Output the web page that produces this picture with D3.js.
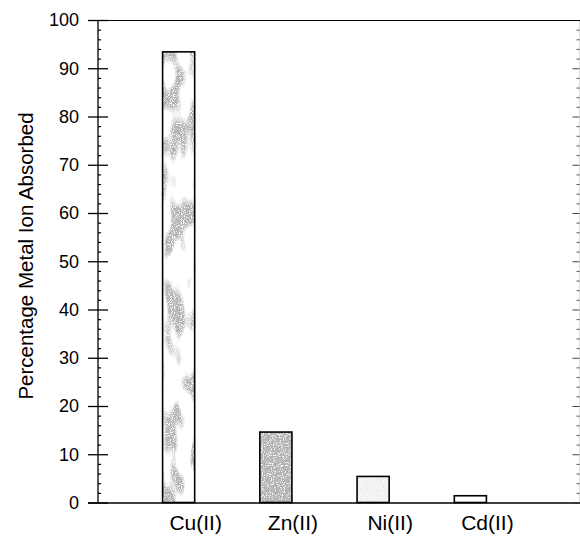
<!DOCTYPE html>
<html>
<head>
<meta charset="utf-8">
<script src="https://cdn.jsdelivr.net/npm/d3@7"></script>
<style>
  body { margin: 0; background: #fff; }
  svg { display: block; font-family: "Liberation Sans", Arial, sans-serif; }
  .axis text { fill: #000; }
</style>
</head>
<body>
<svg id="chart" width="580" height="539"></svg>
<script>
// Data
const metals = ["Cu(II)", "Zn(II)", "Ni(II)", "Cd(II)"];
const absorbed = [93.4, 14.6, 5.4, 1.4];
const majorTicks = [0, 10, 20, 30, 40, 50, 60, 70, 80, 90, 100];

const width = 580, height = 539;
const margin = { top: 20, right: 0, bottom: 36.5, left: 98 };
const innerWidth = width - margin.left - margin.right;
const innerHeight = height - margin.top - margin.bottom;

const svg = d3.select("#chart");

// Scanned-print stipple textures
const defs = svg.append("defs");
const clumped = defs.append("filter").attr("id", "stipple")
    .attr("x", 0).attr("y", 0).attr("width", 1).attr("height", 1);
clumped.append("feTurbulence").attr("type", "fractalNoise")
    .attr("baseFrequency", 0.9).attr("numOctaves", 1).attr("seed", 4).attr("result", "fine");
clumped.append("feTurbulence").attr("type", "fractalNoise")
    .attr("baseFrequency", "0.06 0.022").attr("numOctaves", 2).attr("seed", 11).attr("result", "coarse");
clumped.append("feColorMatrix").attr("in", "fine").attr("type", "matrix")
    .attr("values", "0 0 0 0 0.45  0 0 0 0 0.45  0 0 0 0 0.45  6 0 0 0 -2.0").attr("result", "dots");
clumped.append("feColorMatrix").attr("in", "coarse").attr("type", "matrix")
    .attr("values", "0 0 0 0 0  0 0 0 0 0  0 0 0 0 0  9 0 0 0 -4.3").attr("result", "mask");
clumped.append("feComposite").attr("in", "dots").attr("in2", "mask").attr("operator", "in").attr("result", "spots");
clumped.append("feComposite").attr("in", "spots").attr("in2", "SourceGraphic").attr("operator", "in");

const dense = defs.append("filter").attr("id", "stippleDense")
    .attr("x", 0).attr("y", 0).attr("width", 1).attr("height", 1);
dense.append("feTurbulence").attr("type", "fractalNoise")
    .attr("baseFrequency", 0.9).attr("numOctaves", 1).attr("seed", 2).attr("result", "fine");
dense.append("feColorMatrix").attr("in", "fine").attr("type", "matrix")
    .attr("values", "0 0 0 0 0.45  0 0 0 0 0.45  0 0 0 0 0.45  6 0 0 0 -1.9").attr("result", "dots");
dense.append("feComposite").attr("in", "dots").attr("in2", "SourceGraphic").attr("operator", "in");

const textures = { "Cu(II)": ["stipple", 1], "Zn(II)": ["stippleDense", 1], "Ni(II)": ["stippleDense", 0.2], "Cd(II)": ["stipple", 0] };

const chart = svg.append("g")
    .attr("transform", `translate(${margin.left},${margin.top})`);

// Scales
const xScale = d3.scaleBand()
    .domain(metals)
    .range([32.5, 420.5])
    .paddingInner(0.67)
    .paddingOuter(0.33);

const yScale = d3.scaleLinear()
    .domain([0, 100])
    .range([innerHeight, 0]);

const minorTicks = d3.range(0, 101, 2).filter(d => d % 10 !== 0);

// Bars
const bars = chart.selectAll("g.bar")
    .data(metals)
    .join("g")
    .attr("class", "bar");

bars.append("rect")
    .attr("x", d => xScale(d))
    .attr("y", (d, i) => yScale(absorbed[i]))
    .attr("width", xScale.bandwidth())
    .attr("height", (d, i) => innerHeight - yScale(absorbed[i]))
    .attr("fill", "#fff");

bars.append("rect")
    .attr("x", d => xScale(d))
    .attr("y", (d, i) => yScale(absorbed[i]))
    .attr("width", xScale.bandwidth())
    .attr("height", (d, i) => innerHeight - yScale(absorbed[i]))
    .attr("fill", "#fff")
    .attr("filter", d => `url(#${textures[d][0]})`)
    .attr("opacity", d => textures[d][1]);

bars.append("rect")
    .attr("x", d => xScale(d))
    .attr("y", (d, i) => yScale(absorbed[i]))
    .attr("width", xScale.bandwidth())
    .attr("height", (d, i) => innerHeight - yScale(absorbed[i]))
    .attr("fill", "none")
    .attr("stroke", "#000")
    .attr("stroke-width", 1.6);

// Left axis: major ticks cross the axis line
const leftAxis = d3.axisLeft(yScale)
    .tickValues(majorTicks)
    .tickSize(10)
    .tickPadding(9);
const leftG = chart.append("g")
    .attr("class", "axis")
    .call(leftAxis);
leftG.select(".domain").attr("d", `M0,${innerHeight + 0.5}V0`).attr("stroke-width", 1.3);
leftG.selectAll(".tick line").attr("x1", 10).attr("stroke-width", 1.3);
leftG.selectAll(".tick text").attr("font-size", 18);

chart.append("g")
    .call(d3.axisLeft(yScale).tickValues(minorTicks).tickSize(-3))
    .call(g => g.select(".domain").remove())
    .call(g => g.selectAll(".tick text").remove())
    .selectAll(".tick line").attr("stroke-width", 1.2);

// Right axis (at the image edge)
const rightG = chart.append("g")
    .attr("transform", `translate(${innerWidth - 0.5},0)`)
    .call(d3.axisRight(yScale).tickValues(majorTicks.slice(1, -1)).tickSize(-7))
    .call(g => g.selectAll(".tick text").remove());
rightG.select(".domain").attr("stroke", "#bbb");
rightG.selectAll(".tick line").attr("stroke", "#444");

chart.append("g")
    .attr("transform", `translate(${innerWidth - 0.5},0)`)
    .call(d3.axisRight(yScale).tickValues(minorTicks).tickSize(-3))
    .call(g => g.select(".domain").remove())
    .call(g => g.selectAll(".tick text").remove())
    .selectAll(".tick line").attr("stroke", "#555");

// Top frame line
chart.append("g")
    .call(d3.axisTop(d3.scaleLinear().range([0, innerWidth])).tickValues([]).tickSizeOuter(0))
    .select(".domain").attr("stroke-width", 1.2);

// Bottom axis with category names
const bottomG = chart.append("g")
    .attr("class", "axis")
    .attr("transform", `translate(0,${innerHeight})`)
    .call(d3.axisBottom(xScale).tickSize(0).tickSizeOuter(0).tickPadding(13));
bottomG.select(".domain").attr("d", `M-10,0.5H${innerWidth}`).attr("stroke-width", 1.5);
bottomG.selectAll(".tick text")
    .attr("x", xScale.bandwidth() / 2 + 1)
    .attr("font-size", 21);

// Y-axis label
svg.append("text")
    .text("Percentage Metal Ion Absorbed")
    .attr("transform", "translate(33,256) rotate(-90)")
    .attr("text-anchor", "middle")
    .attr("font-size", 20.5)
    .attr("fill", "#000");
</script>
</body>
</html>
